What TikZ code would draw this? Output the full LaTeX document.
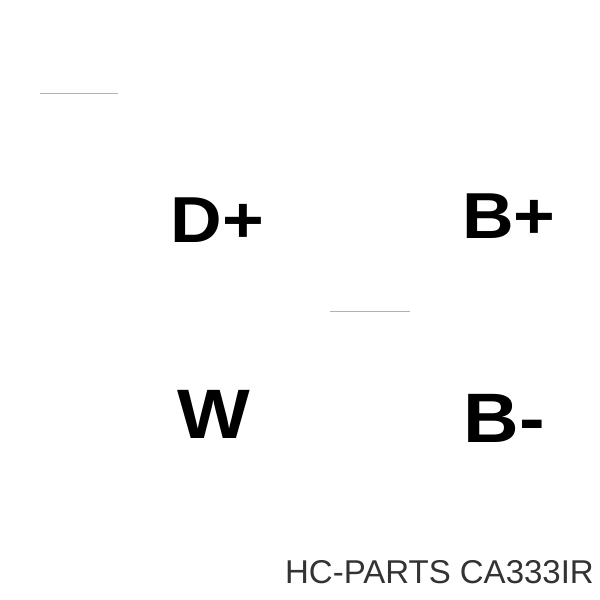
\documentclass[tikz,border=0pt]{standalone}
\usepackage{fontspec}
\setmainfont{Liberation Sans}
\newfontfamily\pinfont{Liberation Sans}[FakeStretch=1.1]

\tikzset{
    pin label/.style={anchor=base, inner sep=0pt, font=\pinfont\bfseries\fontsize{65}{65}\selectfont},
    pin label low/.style={pin label, font=\pinfont\bfseries\fontsize{70}{70}\selectfont},
    rule line/.style={draw=black!30, line width=0.7pt}
}

\begin{document}
\begin{tikzpicture}[x=1pt, y=-1pt]
    \useasboundingbox (0,0) rectangle (600,600);

    % faint rules
    \coordinate (r1a) at (40,93);
    \coordinate (r1b) at (118,93);
    \coordinate (r2a) at (330,311);
    \coordinate (r2b) at (410,311);
    \draw[rule line] (r1a) -- (r1b);
    \draw[rule line] (r2a) -- (r2b);

    % terminals
    \node[pin label] (dplus) at (217.5,242) {D+};
    \node[pin label] (bplus) at (509,238) {B+};
    \node[pin label low] (w) at (213.5,438) {W};
    \node[pin label low] (bminus) at (504.5,442) {B-};

    \node[anchor=base, inner sep=0pt, font=\fontsize{33}{33}\selectfont, text=black!80] (part) at (439.5,583) {HC-PARTS CA333IR};
\end{tikzpicture}
\end{document}
